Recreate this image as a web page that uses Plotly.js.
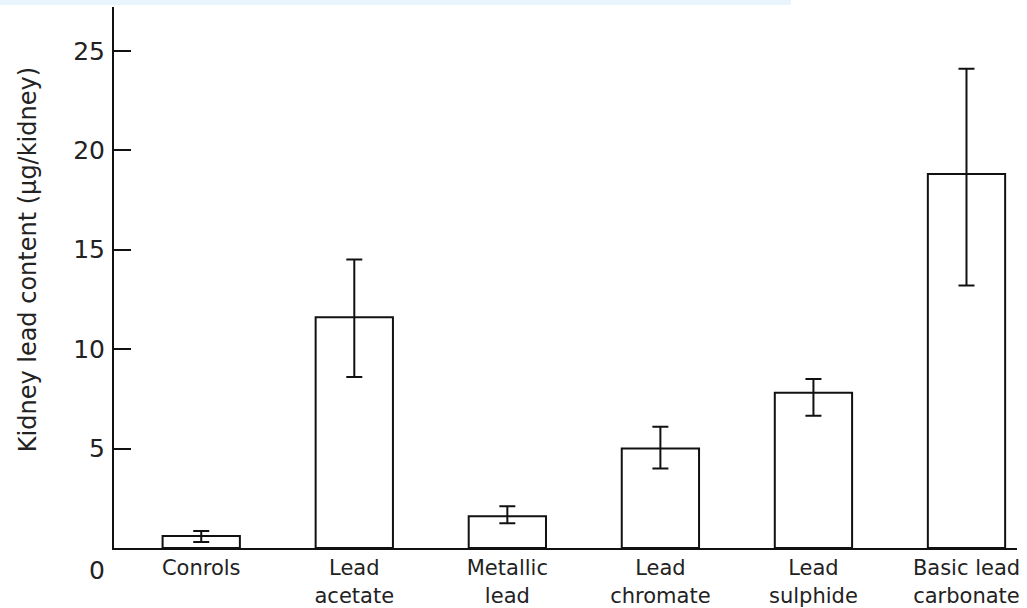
<!DOCTYPE html>
<html>
<head>
<meta charset="utf-8">
<script src="https://cdn.plot.ly/plotly-3.0.1.min.js"></script>
<style>html,body{margin:0;padding:0;background:#fff;}#chart{width:1027px;height:608px;}</style>
</head>
<body>
<div id="chart"></div>
<script>
const categories = ["Conrols", "Lead<br>acetate", "Metallic<br>lead", "Lead<br>chromate", "Lead<br>sulphide", "Basic lead<br>carbonate"];
const values = [0.6, 11.6, 1.6, 5.0, 7.8, 18.8];
const errPlus = [0.25, 2.9, 0.5, 1.1, 0.7, 5.3];
const errMinus = [0.3, 3.0, 0.35, 1.0, 1.15, 5.6];
const yTickVals = [5, 10, 15, 20, 25];
const yTickText = ["5", "10", "15", "20", "25"];
const yTitle = "Kidney lead content (μg/kidney)";

const FONT = "DejaVu Sans, Open Sans, sans-serif";

const trace = {
  type: "bar",
  x: categories.map((c, i) => i),
  y: values,
  width: 0.505,
  marker: {color: "#ffffff", line: {color: "#111", width: 2}},
  error_y: {type: "data", symmetric: false, array: errPlus, arrayminus: errMinus,
            color: "#111", thickness: 2, width: 8},
  hoverinfo: "none"
};

const layout = {
  width: 1027, height: 608,
  margin: {l: 114, r: 10, t: 7, b: 60},
  paper_bgcolor: "#ffffff", plot_bgcolor: "#ffffff",
  showlegend: false,
  font: {family: FONT, color: "#222"},
  xaxis: {
    range: [-0.57, 5.33],
    tickvals: categories.map((c, i) => i),
    ticktext: categories,
    ticks: "", showgrid: false, zeroline: false,
    showline: true, linecolor: "#111", linewidth: 2,
    tickfont: {family: FONT, size: 21, color: "#222"},
    ticklabelstandoff: 0
  },
  yaxis: {
    range: [0, 27.2],
    tickvals: yTickVals, ticktext: yTickText,
    ticks: "inside", ticklen: 17, tickwidth: 2, tickcolor: "#111",
    showgrid: false, zeroline: false,
    showline: true, linecolor: "#111", linewidth: 2,
    tickfont: {family: FONT, size: 25, color: "#222"},
    ticklabelstandoff: 2
  },
  shapes: [
    {type: "rect", xref: "paper", yref: "paper", x0: -0.1262, x1: 0.7497, y0: 1.0037, y1: 1.02,
     fillcolor: "#e8f5fd", line: {width: 0}, layer: "below"}
  ],
  annotations: [
    {text: yTitle, xref: "paper", yref: "paper", x: -0.0952, y: 0.532, textangle: -90,
     showarrow: false, font: {family: FONT, size: 24, color: "#222"}, xanchor: "center", yanchor: "middle"},
    {text: "0", xref: "paper", yref: "paper", x: -0.0188, y: -0.0407, showarrow: false,
     font: {family: FONT, size: 25, color: "#222"}, xanchor: "center", yanchor: "middle"}
  ]
};

Plotly.newPlot("chart", [trace], layout, {displayModeBar: false, staticPlot: true});
</script>
</body>
</html>
